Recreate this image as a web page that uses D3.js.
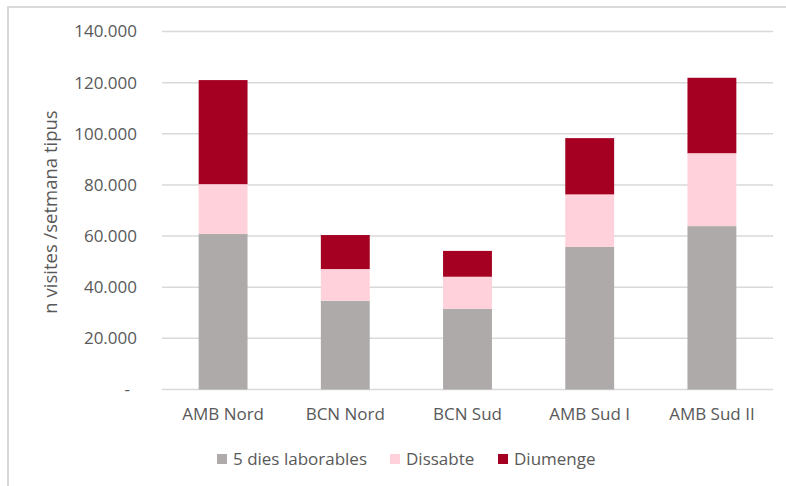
<!DOCTYPE html>
<html>
<head>
<meta charset="utf-8">
<script src="https://cdn.jsdelivr.net/npm/d3@7"></script>
<style>
  html, body { margin: 0; padding: 0; background: #fff; }
  svg text { font-family: "Open Sans", sans-serif; fill: #595959; }
</style>
</head>
<body>
<div id="chart"></div>
<script>
'use strict'
// dades llegides del gràfic
var zones = ["AMB Nord", "BCN Nord", "BCN Sud", "AMB Sud I", "AMB Sud II"];
var laborables = [60800, 34700, 31600, 55800, 63900];
var dissabte = [19500, 12400, 12500, 20500, 28500];
var diumenge = [40700, 13300, 10100, 22000, 29500];
var seriesNames = ["5 dies laborables", "Dissabte", "Diumenge"];
var seriesColors = ["#AEAAAA", "#FFD1DA", "#A50021"];
var yTicks = [0, 20000, 40000, 60000, 80000, 100000, 120000, 140000];

var width = 786, height = 486;
var plotLeft = 162, plotRight = 773, plotTop = 31.5, plotBottom = 389.5;

var svg = d3.select("#chart").append("svg")
    .attr("width", width)
    .attr("height", height);

// marc exterior
svg.append("rect")
    .attr("x", 8).attr("y", 7)
    .attr("width", 800).attr("height", 490)
    .attr("fill", "none")
    .attr("stroke", "#d9d9d9")
    .attr("stroke-width", 2);

var x = d3.scaleBand().domain(zones).range([plotLeft, plotRight]).paddingInner(0.6).paddingOuter(0.3);
var y = d3.scaleLinear().domain([0, 140000]).range([plotBottom, plotTop]);

// línies de graella
svg.append("g").selectAll("line")
    .data(yTicks)
    .enter().append("line")
    .attr("x1", plotLeft).attr("x2", plotRight)
    .attr("y1", function (d) { return y(d); })
    .attr("y2", function (d) { return y(d); })
    .attr("stroke", "#d9d9d9")
    .attr("stroke-width", 1.5);

// etiquetes eix Y
var fmt = function (d) {
    if (d === 0) return "-";
    return d3.format(",")(d).replace(/,/g, ".");
};
svg.append("g").selectAll("text")
    .data(yTicks)
    .enter().append("text")
    .attr("x", function (d) { return d === 0 ? 130 : 137; })
    .attr("y", function (d) { return y(d); })
    .attr("dy", "0.35em")
    .attr("text-anchor", "end")
    .style("font-size", "17px")
    .text(fmt);

// apilament
var rows = zones.map(function (z, i) {
    return { zona: z, a: laborables[i], b: dissabte[i], c: diumenge[i] };
});
var stack = d3.stack().keys(["a", "b", "c"]);
var layers = stack(rows);

svg.append("g").selectAll("g")
    .data(layers)
    .enter().append("g")
    .attr("fill", function (d, i) { return seriesColors[i]; })
    .selectAll("rect")
    .data(function (d) { return d; })
    .enter().append("rect")
    .attr("x", function (d) { return x(d.data.zona); })
    .attr("width", x.bandwidth())
    .attr("y", function (d) { return y(d[1]); })
    .attr("height", function (d) { return y(d[0]) - y(d[1]); });

// etiquetes eix X
svg.append("g").selectAll("text")
    .data(zones)
    .enter().append("text")
    .attr("x", function (d) { return x(d) + x.bandwidth() / 2; })
    .attr("y", 420)
    .attr("text-anchor", "middle")
    .style("font-size", "17px")
    .text(function (d) { return d; });

// títol eix Y
svg.append("text")
    .attr("transform", "translate(57,212) rotate(-90)")
    .attr("text-anchor", "middle")
    .style("font-size", "18.5px")
    .text("n visites /setmana tipus");

// llegenda
var legendX = [217, 390, 498];
var legend = svg.append("g").selectAll("g")
    .data(seriesNames)
    .enter().append("g")
    .attr("transform", function (d, i) { return "translate(" + legendX[i] + ",454)"; });
legend.append("rect")
    .attr("width", 10).attr("height", 10)
    .attr("fill", function (d, i) { return seriesColors[i]; });
legend.append("text")
    .attr("x", 16).attr("y", 5)
    .attr("dy", "0.35em")
    .style("font-size", "17px")
    .text(function (d) { return d; });
</script>
</body>
</html>
